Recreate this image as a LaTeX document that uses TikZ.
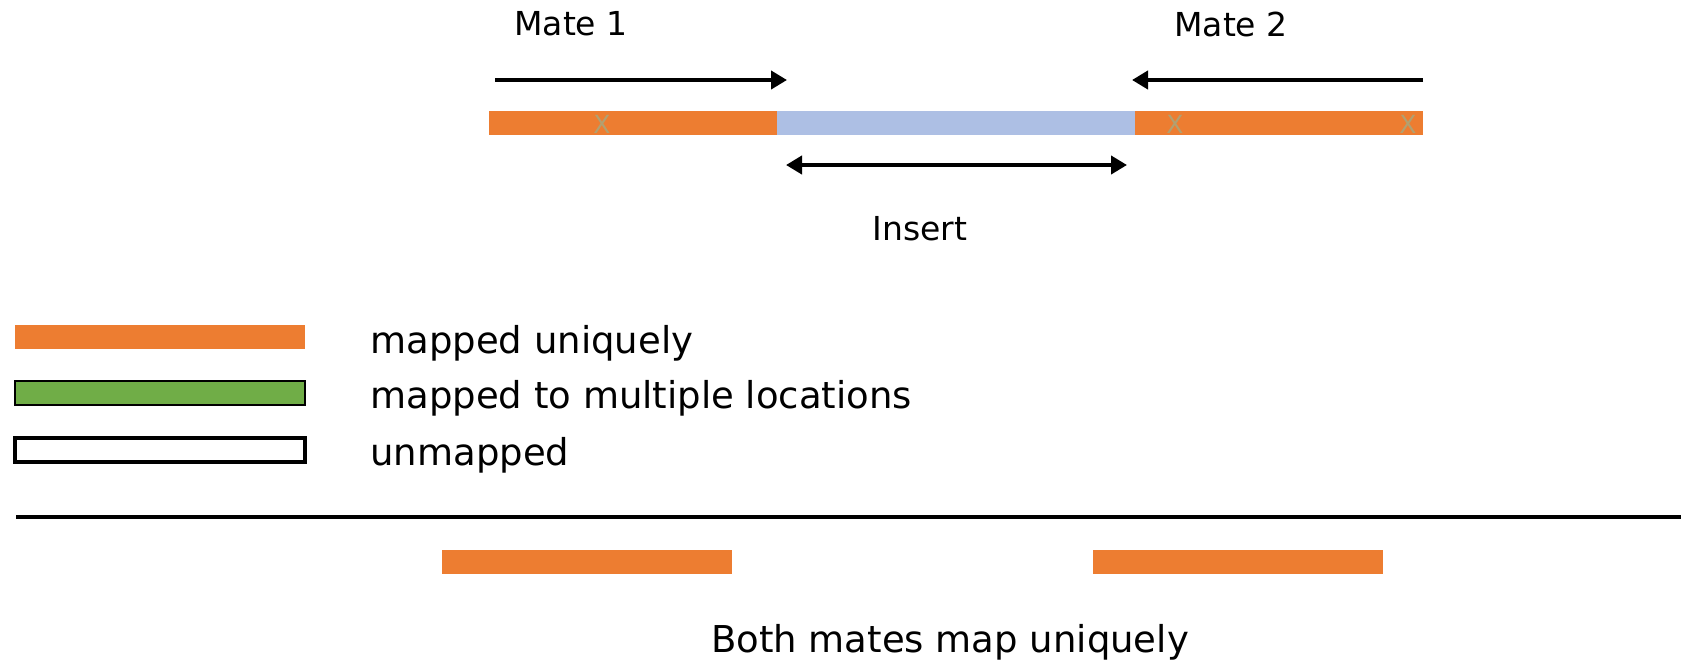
\documentclass[tikz,border=0pt]{standalone}
\usepackage{fontspec}
\setmainfont{DejaVu Sans}
\usetikzlibrary{positioning, arrows.meta}

\definecolor{uniqueorange}{RGB}{237,125,49}
\definecolor{multigreen}{RGB}{112,173,71}
\definecolor{insertblue}{RGB}{173,191,228}
\definecolor{markgray}{RGB}{178,160,112}

\begin{document}
\begin{tikzpicture}[
    x=0.5pt, y=-0.5pt,
    >={Triangle[length=8pt,width=9pt]},
    % Styles
    bar/.style={
        rectangle,
        minimum width=145pt,
        minimum height=12pt,
        inner sep=0pt,
        outer sep=0pt
    },
    mapped/.style={
        bar,
        fill=uniqueorange
    },
    multi/.style={
        bar,
        fill=multigreen,
        draw=black,
        line width=1.1pt
    },
    unmapped/.style={
        bar,
        fill=white,
        draw=black,
        line width=2.4pt
    },
    insert/.style={
        bar,
        minimum width=179pt,
        fill=insertblue
    },
    xmark/.style={
        text=markgray,
        font=\fontsize{12.5}{14}\selectfont,
        inner sep=0pt
    },
    label/.style={
        font=\fontsize{16.5}{20}\selectfont
    },
    legendtext/.style={
        anchor=west,
        inner sep=0pt,
        font=\fontsize{18.5}{22}\selectfont
    },
    arrow/.style={
        ->,
        line width=2.2pt
    }
]
    \useasboundingbox (0,0) rectangle (1681,660);

    % Read pair and insert
    \node[mapped, minimum width=144pt] (mate1) at (633,123) {};
    \node[insert, right=0pt of mate1] (ins) {};
    \node[mapped, minimum width=144pt, right=0pt of ins] (mate2) {};

    \node[xmark] (x1) at (602,124) {X};
    \node[xmark] (x2) at (1175,124) {X};
    \node[xmark] (x3) at (1408,124) {X};

    \node[label] (mate1label) at (571,24) {Mate 1};
    \node[label] (mate2label) at (1231,24) {Mate 2};
    \node[label] (inslabel) at (920,229) {Insert};

    \coordinate (m1start) at (495,80);
    \coordinate (m1end) at (787,80);
    \coordinate (m2start) at (1423,80);
    \coordinate (m2end) at (1132,80);
    \coordinate (insleft) at (786,165);
    \coordinate (insright) at (1127,165);

    % Legend
    \node[mapped] (legunique) at (160,337) {};
    \node[multi] (legmulti) at (160,393) {};
    \node[unmapped] (legnone) at (160,450) {};
    \node[legendtext] (txtunique) at (370,343) {mapped uniquely};
    \node[legendtext] (txtmulti) at (370,398) {mapped to multiple locations};
    \node[legendtext] (txtnone) at (370,455) {unmapped};

    % Reference line and case
    \draw[line width=2pt] (16,517) -- (1681,517);
    \node[mapped] (case1) at (586.5,562) {};
    \node[mapped] (case2) at (1238,562) {};
    \node[legendtext, anchor=center] (caselabel) at (950,642) {Both mates map uniquely};

    % Paths
    \draw[arrow] (m1start) -- (m1end);
    \draw[arrow] (m2start) -- (m2end);
    \draw[arrow, <->] (insleft) -- (insright);
\end{tikzpicture}
\end{document}
